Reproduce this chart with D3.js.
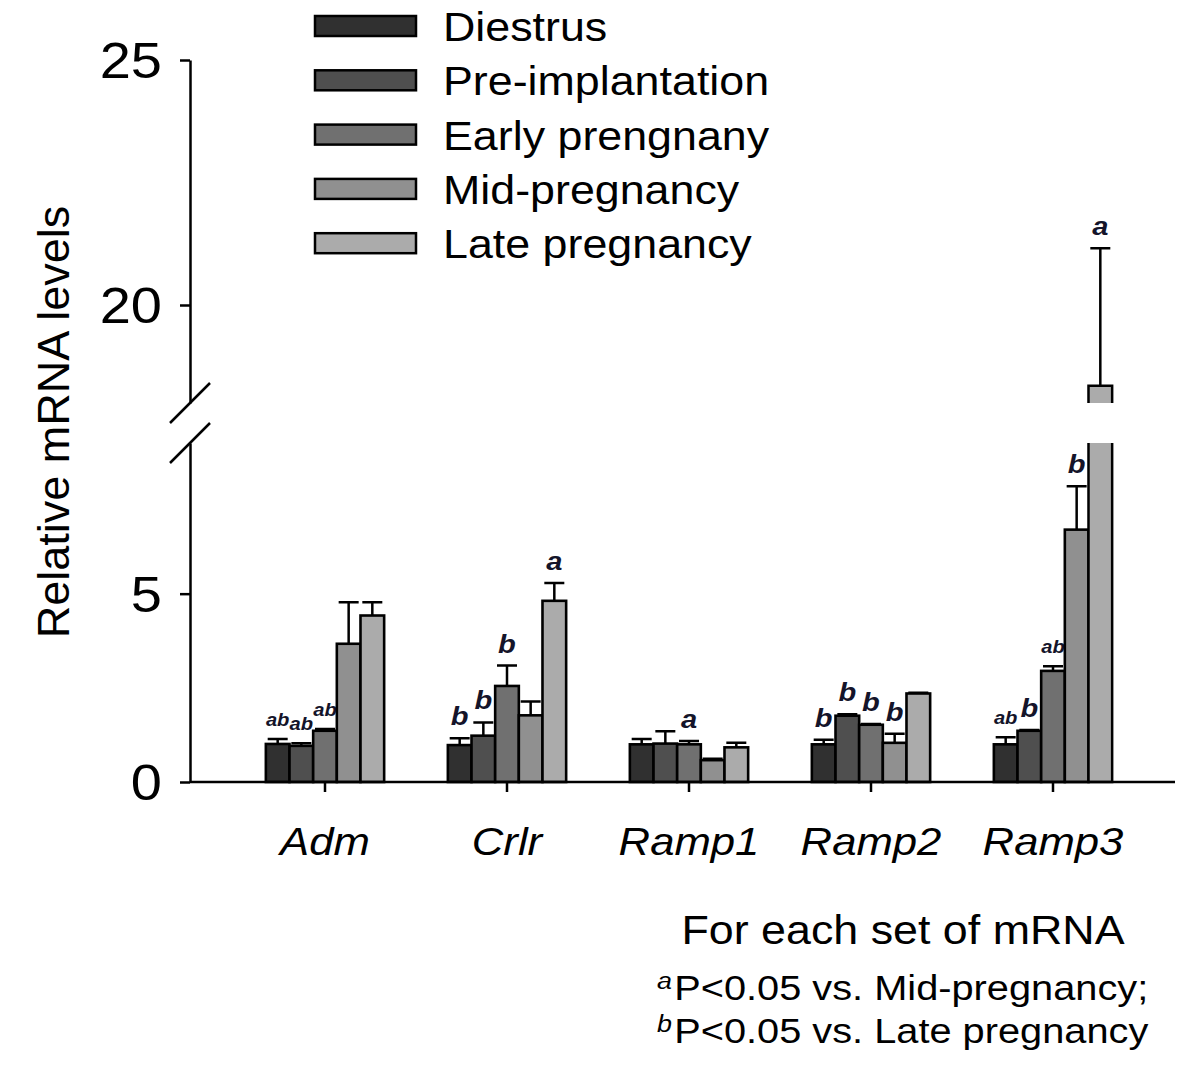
<!DOCTYPE html>
<html lang="en">
<head>
    <meta charset="UTF-8">
    <title>Relative mRNA levels</title>
    <style>
        body { margin: 0; padding: 0; background: #fff; }
        svg { display: block; font-family: Arial, "Liberation Sans", sans-serif; }
        .axis path, .axis line { stroke: #000; stroke-width: 2.5px; }
        .bar { stroke: #000; stroke-width: 2.6px; }
        .err { stroke: #000; stroke-width: 2.5px; fill: none; }
    </style>
</head>
<body>
    <div id="chart"></div>

    <script src="https://d3js.org/d3.v7.min.js"></script>
    <script>
        // genes on the x axis and the five stages (series)
        const genes = ["Adm", "Crlr", "Ramp1", "Ramp2", "Ramp3"];
        const stages = ["Diestrus", "Pre-implantation", "Early prengnany", "Mid-pregnancy", "Late pregnancy"];
        const stageColors = ["#303030", "#4f4f4f", "#707070", "#909090", "#ababab"];

        // means per stage, in gene order
        const diestrus = [1.01, 0.98, 1.00, 1.00, 1.00];
        const preImplantation = [0.96, 1.23, 1.02, 1.76, 1.36];
        const earlyPregnancy = [1.36, 2.55, 1.00, 1.52, 2.95];
        const midPregnancy = [3.67, 1.77, 0.58, 1.04, 6.70];
        const latePregnancy = [4.42, 4.81, 0.92, 2.35, 18.35];

        // error bars (upper only)
        const diestrusErr = [0.13, 0.18, 0.14, 0.12, 0.19];
        const preImplantationErr = [0.07, 0.35, 0.33, 0.04, 0.02];
        const earlyPregnancyErr = [0.05, 0.54, 0.09, 0.02, 0.12];
        const midPregnancyErr = [1.10, 0.37, 0.04, 0.24, 1.15];
        const latePregnancyErr = [0.35, 0.47, 0.12, 0.02, 2.81];

        // significance letters
        const diestrusSig = ["ab", "b", "", "b", "ab"];
        const preImplantationSig = ["ab", "b", "", "b", "b"];
        const earlyPregnancySig = ["ab", "b", "a", "b", "ab"];
        const midPregnancySig = ["", "", "", "b", "b"];
        const latePregnancySig = ["", "a", "", "", "a"];

        // y axis pieces (broken axis)
        const lowDomain = [0, 9];
        const highDomain = [18, 25];
        const lowTicks = [0, 5];
        const highTicks = [20, 25];

        const means = [diestrus, preImplantation, earlyPregnancy, midPregnancy, latePregnancy];
        const errs = [diestrusErr, preImplantationErr, earlyPregnancyErr, midPregnancyErr, latePregnancyErr];
        const sigs = [diestrusSig, preImplantationSig, earlyPregnancySig, midPregnancySig, latePregnancySig];

        const W = 1200, H = 1076;
        const SX = 1.12; // the original picture is a bit stretched horizontally
        const axisX = 190;

        const svg = d3.select("#chart").append("svg")
            .attr("width", W)
            .attr("height", H);

        const yLow = d3.scaleLinear().domain(lowDomain).range([782, 443]);
        const yHigh = d3.scaleLinear().domain(highDomain).range([403, 60]);
        function yPos(v) {
            return v <= lowDomain[1] ? yLow(v) : yHigh(Math.max(v, highDomain[0]));
        }

        const x0 = d3.scaleBand().domain(genes).range([234, 1144])
            .paddingInner(0.35).paddingOuter(0.175);
        const x1 = d3.scaleBand().domain(stages).range([0, x0.bandwidth()]);

        // stretched text helper
        function addText(parent, x, y, txt, size, anchor, extra) {
            const t = parent.append("text")
                .attr("transform", `translate(${x},${y}) scale(${SX},1)` + (extra || ""))
                .attr("text-anchor", anchor)
                .style("font-size", size + "px")
                .text(txt);
            return t;
        }

        // flat data list
        const rows = [];
        genes.forEach((g, gi) => {
            stages.forEach((s, si) => {
                rows.push({ gene: g, stage: s, si: si,
                    v: means[si][gi], e: errs[si][gi], sig: sigs[si][gi] });
            });
        });

        const bars = svg.append("g");
        const bw = x1.bandwidth();

        rows.forEach(d => {
            const x = x0(d.gene) + x1(d.stage);
            const col = stageColors[d.si];
            if (d.v <= lowDomain[1]) {
                bars.append("rect")
                    .attr("class", "bar")
                    .attr("x", x).attr("width", bw)
                    .attr("y", yLow(d.v)).attr("height", yLow(0) - yLow(d.v))
                    .attr("fill", col);
            } else {
                // lower piece
                bars.append("rect")
                    .attr("x", x).attr("width", bw)
                    .attr("y", yLow(lowDomain[1])).attr("height", yLow(0) - yLow(lowDomain[1]))
                    .attr("fill", col);
                bars.append("path")
                    .attr("class", "err")
                    .attr("d", `M${x},${yLow(lowDomain[1])}V${yLow(0)}H${x + bw}V${yLow(lowDomain[1])}`);
                // upper piece
                bars.append("rect")
                    .attr("x", x).attr("width", bw)
                    .attr("y", yHigh(d.v)).attr("height", yHigh(highDomain[0]) - yHigh(d.v))
                    .attr("fill", col);
                bars.append("path")
                    .attr("class", "err")
                    .attr("d", `M${x},${yHigh(highDomain[0])}V${yHigh(d.v)}H${x + bw}V${yHigh(highDomain[0])}`);
            }
            // error bar
            const cx = x + bw / 2;
            const top = yPos(d.v + d.e);
            bars.append("path")
                .attr("class", "err")
                .attr("d", `M${cx},${yPos(d.v)}V${top}M${cx - 10},${top}H${cx + 10}`);
            // letters
            if (d.sig) {
                addText(bars, cx, top - 13, d.sig, d.sig.length > 1 ? 18 : 26, "middle")
                    .style("font-weight", "bold")
                    .style("font-style", "italic")
                    .attr("fill", "#14142a");
            }
        });

        // y axis (two pieces)
        svg.append("g").attr("class", "axis")
            .attr("transform", `translate(${axisX},0)`)
            .call(d3.axisLeft(yLow).tickValues(lowTicks).tickSize(10).tickSizeOuter(0).tickFormat(""));
        svg.append("g").attr("class", "axis")
            .attr("transform", `translate(${axisX},0)`)
            .call(d3.axisLeft(yHigh).tickValues(highTicks).tickSize(10).tickSizeOuter(0).tickFormat(""));

        lowTicks.forEach(t => addText(svg, axisX - 28, yLow(t) + 18, t, 50, "end"));
        highTicks.forEach(t => addText(svg, axisX - 28, yHigh(t) + 18, t, 50, "end"));

        // break marks
        [yHigh(highDomain[0]), yLow(lowDomain[1])].forEach(y => {
            svg.append("line")
                .attr("x1", axisX - 20).attr("y1", y + 20)
                .attr("x2", axisX + 20).attr("y2", y - 20)
                .attr("stroke", "#000").attr("stroke-width", 2.5);
        });

        // x axis
        svg.append("line")
            .attr("x1", axisX).attr("x2", 1175)
            .attr("y1", yLow(0)).attr("y2", yLow(0))
            .attr("stroke", "#000").attr("stroke-width", 2.5);
        const axX = svg.append("g").attr("class", "axis")
            .attr("transform", `translate(0,${yLow(0)})`)
            .call(d3.axisBottom(x0).tickSize(10).tickSizeOuter(0).tickFormat(""));
        axX.select(".domain").remove();

        genes.forEach(g => {
            addText(svg, x0(g) + x0.bandwidth() / 2, 855, g, 39, "middle")
                .style("font-style", "italic");
        });

        // y title (length runs vertically, so no horizontal stretch on it)
        svg.append("text")
            .attr("transform", "translate(69,422) rotate(-90)")
            .attr("text-anchor", "middle")
            .style("font-size", "45px")
            .text("Relative mRNA levels");

        // legend
        const legend = svg.append("g");
        stages.forEach((s, i) => {
            const cy = 26 + i * 54.3;
            legend.append("rect")
                .attr("x", 315).attr("y", cy - 10)
                .attr("width", 101).attr("height", 20)
                .attr("fill", stageColors[i])
                .attr("stroke", "#000").attr("stroke-width", 2.5);
            addText(legend, 443, cy + 15, s, 40, "start");
        });

        // footnote
        addText(svg, 903, 944, "For each set of mRNA", 40, "middle");
        const notes = [["a", "P<0.05 vs. Mid-pregnancy;"], ["b", "P<0.05 vs. Late pregnancy"]];
        notes.forEach((n, i) => {
            const t = svg.append("text")
                .attr("transform", `translate(657,${1000 + i * 43}) scale(${SX},1)`)
                .style("font-size", "35.5px");
            t.append("tspan").attr("dy", -11).style("font-size", "24px")
                .style("font-style", "italic").text(n[0]);
            t.append("tspan").attr("dy", 11).attr("dx", 2).text(n[1]);
        });
    </script>
</body>
</html>
